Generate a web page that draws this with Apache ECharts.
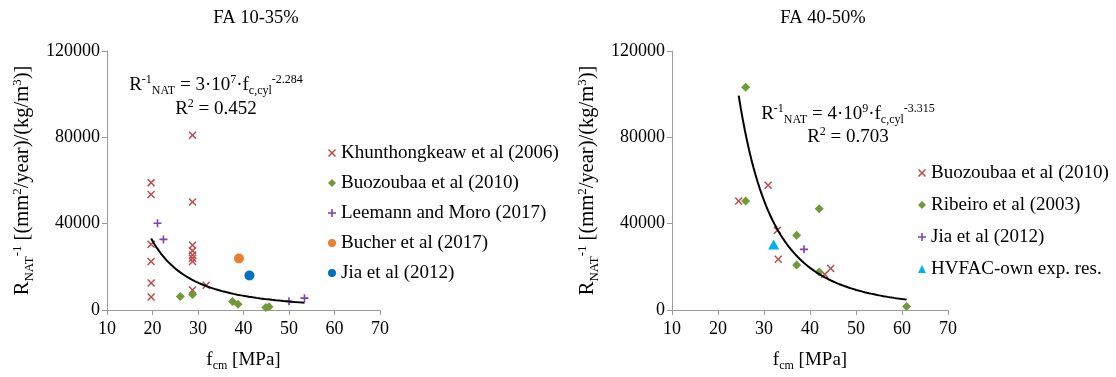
<!DOCTYPE html>
<html>
<head>
<meta charset="utf-8">
<title>Natural carbonation resistance vs. compressive strength</title>
<script src="https://cdn.jsdelivr.net/npm/echarts@6/dist/echarts.min.js"></script>
<style>
  html, body { margin: 0; padding: 0; background: #ffffff; }
  #chart { width: 1116px; height: 377px; }
</style>
</head>
<body>
<div id="chart"></div>
<script>
// ---- axis ticks (both panels share the same scales) ----
const fcmTicks = [10, 20, 30, 40, 50, 60, 70];
const rnatTicks = [0, 40000, 80000, 120000];

// ---- panel 1: FA 10-35 % ----
const khunthongkeawFcm = [19.7, 19.7, 19.7, 19.7, 19.7, 19.7, 28.8, 28.8, 28.8, 28.8, 28.8, 28.8, 28.8, 28.8, 31.8];
const khunthongkeawR   = [59000, 53500, 30500, 22500, 12500, 6000, 81000, 50000, 30000, 27500, 25500, 24000, 22500, 9300, 11500];
const buozoubaaLoFcm   = [26.1, 28.8, 37.6, 38.8, 44.9, 45.6];
const buozoubaaLoR     = [6200, 7200, 3900, 2700, 1200, 1500];
const leemannFcm       = [21.1, 22.4, 50.0, 53.4];
const leemannR         = [40200, 32700, 4000, 5500];
const bucherFcm        = [39.0];
const bucherR          = [23900];
const jiaLoFcm         = [41.3];
const jiaLoR           = [16000];

// ---- panel 2: FA 40-50 % ----
const buozoubaaHiFcm = [24.5, 30.9, 32.9, 33.1, 43.2, 44.5];
const buozoubaaHiR   = [50500, 57800, 36900, 23500, 16500, 19200];
const ribeiroFcm     = [26.0, 26.0, 37.1, 37.1, 42.0, 42.0, 61.0];
const ribeiroR       = [103200, 50500, 34600, 20800, 46900, 17600, 1600];
const jiaHiFcm       = [38.7];
const jiaHiR         = [28100];
const hvfacFcm       = [32.1];
const hvfacR         = [30400];

// ---- power-law trend lines R = a * fcm^b (as stated in the equations) ----
const fitCoefficient = [3e7, 4e9];
const fitExponent    = [-2.284, -3.315];
const fitR2          = ['0.452', '0.703'];
const panelTitles    = ['FA 10-35%', 'FA 40-50%'];

const SERIF = '"Liberation Serif", "Times New Roman", serif';
const AXIS_GREY = '#9c9c9c';

const COL = {
  red: '#BE4B48',
  green: '#70993A',
  purple: '#7E3FB9',
  orange: '#ED7D31',
  blue: '#0070C0',
  cyan: '#00B0F0'
};

const CROSS = 'path://M0,1.3L1.3,0L5,3.7L8.7,0L10,1.3L6.3,5L10,8.7L8.7,10L5,6.3L1.3,10L0,8.7L3.7,5Z';
const PLUS  = 'path://M4,0H6V4H10V6H6V10H4V6H0V4H4Z';

function zip(xs, ys) { return xs.map((x, i) => [x, ys[i]]); }

// rich text styles for sub- and superscripts
function richStyles(size) {
  const small = Math.round(size * 0.62);
  const lh = Math.round(size * 1.26);
  return {
    n:   { fontFamily: SERIF, fontSize: size, color: '#000', fill: '#000', lineHeight: lh, verticalAlign: 'middle' },
    sup: { fontFamily: SERIF, fontSize: small, color: '#000', fill: '#000', lineHeight: small + 3, verticalAlign: 'top', padding: [1, 0, 0, 0] },
    sub: { fontFamily: SERIF, fontSize: small, color: '#000', fill: '#000', lineHeight: small + 2, verticalAlign: 'bottom' }
  };
}

const yName = '{n|R}{sub|NAT}{sup|-1}{n| [(mm}{sup|2}{n|/year)/(kg/m}{sup|3}{n|)]}';
const xName = '{n|f}{sub|cm}{n| [MPa]}';

// split a coefficient into mantissa and power of ten
function sciParts(coef) {
  const e = Math.floor(Math.log10(coef) + 1e-9);
  const m = Math.round(coef / Math.pow(10, e));
  return [m, e];
}

// sample the trend line over the data range of each panel
function trendData(coef, expo, xs) {
  const lo = Math.min(...xs), hi = Math.max(...xs);
  const n = 80, pts = [];
  for (let i = 0; i <= n; i++) {
    const x = lo + (hi - lo) * i / n;
    pts.push([x, coef * Math.pow(x, expo)]);
  }
  return pts;
}

const leftAllFcm = [].concat(khunthongkeawFcm, buozoubaaLoFcm, leemannFcm, bucherFcm, jiaLoFcm);
const rightAllFcm = [].concat(buozoubaaHiFcm, ribeiroFcm, jiaHiFcm, hvfacFcm);

function makeX(gridIndex) {
  return {
    type: 'value', gridIndex,
    min: fcmTicks[0], max: fcmTicks[fcmTicks.length - 1], interval: fcmTicks[1] - fcmTicks[0],
    axisLine: { show: true, onZero: false, lineStyle: { color: AXIS_GREY, width: 1 } },
    axisTick: { show: true, inside: false, length: 5, lineStyle: { color: AXIS_GREY } },
    splitLine: { show: false },
    axisLabel: { fontFamily: SERIF, fontSize: 18, color: '#000', margin: 10, formatter: v => String(v) },
    name: xName, nameLocation: 'middle', nameGap: 38, nameMoveOverlap: false,
    nameTextStyle: { fontFamily: SERIF, fontSize: 19, color: '#000', rich: richStyles(19) }
  };
}
function makeY(gridIndex) {
  return {
    type: 'value', gridIndex,
    min: rnatTicks[0], max: rnatTicks[rnatTicks.length - 1], interval: rnatTicks[1] - rnatTicks[0],
    axisLine: { show: true, onZero: false, lineStyle: { color: AXIS_GREY, width: 1 } },
    axisTick: { show: true, inside: false, length: 5, lineStyle: { color: AXIS_GREY } },
    splitLine: { show: false },
    axisLabel: { fontFamily: SERIF, fontSize: 18, color: '#000', margin: 7, formatter: v => String(v) },
    name: yName, nameLocation: 'middle', nameRotate: 90, nameGap: 71, nameMoveOverlap: false,
    nameTextStyle: { fontFamily: SERIF, fontSize: 20.5, color: '#000', rich: richStyles(20.5) }
  };
}

function scatter(panel, label, xs, ys, symbol, size, color, gi) {
  return {
    type: 'scatter', name: panel + '|' + label,
    xAxisIndex: gi, yAxisIndex: gi,
    symbol, symbolSize: size,
    itemStyle: { color, opacity: 1 },
    data: zip(xs, ys), z: 3, silent: true
  };
}

const leftLabels = ['Khunthongkeaw et al (2006)', 'Buozoubaa et al (2010)', 'Leemann and Moro (2017)', 'Bucher et al (2017)', 'Jia et al (2012)'];
const rightLabels = ['Buozoubaa et al (2010)', 'Ribeiro et al (2003)', 'Jia et al (2012)', 'HVFAC-own exp. res.'];

const series = [
  scatter('A', leftLabels[0], khunthongkeawFcm, khunthongkeawR, CROSS, 8, COL.red, 0),
  scatter('A', leftLabels[1], buozoubaaLoFcm, buozoubaaLoR, 'diamond', 9, COL.green, 0),
  scatter('A', leftLabels[2], leemannFcm, leemannR, PLUS, 8, COL.purple, 0),
  scatter('A', leftLabels[3], bucherFcm, bucherR, 'circle', 10, COL.orange, 0),
  scatter('A', leftLabels[4], jiaLoFcm, jiaLoR, 'circle', 10, COL.blue, 0),
  scatter('B', rightLabels[0], buozoubaaHiFcm, buozoubaaHiR, CROSS, 8, COL.red, 1),
  scatter('B', rightLabels[1], ribeiroFcm, ribeiroR, 'diamond', 9, COL.green, 1),
  scatter('B', rightLabels[2], jiaHiFcm, jiaHiR, PLUS, 8, COL.purple, 1),
  scatter('B', rightLabels[3], hvfacFcm, hvfacR, 'triangle', [11, 10], COL.cyan, 1),
  {
    type: 'line', name: 'trendA', xAxisIndex: 0, yAxisIndex: 0,
    data: trendData(fitCoefficient[0], fitExponent[0], leftAllFcm),
    showSymbol: false, smooth: false, silent: true, z: 4,
    lineStyle: { color: '#000', width: 2 }
  },
  {
    type: 'line', name: 'trendB', xAxisIndex: 1, yAxisIndex: 1,
    data: trendData(fitCoefficient[1], fitExponent[1], rightAllFcm),
    showSymbol: false, smooth: false, silent: true, z: 4,
    lineStyle: { color: '#000', width: 2 }
  }
];

function eqText(i) {
  const [m, e] = sciParts(fitCoefficient[i]);
  return '{n|R}{sup|-1}{sub|NAT}{n| = ' + m + '·10}{sup|' + e + '}{n|·f}{sub|c,cyl}{sup|' + fitExponent[i] + '}';
}
function r2Text(i) {
  return '{n|R}{sup|2}{n| = ' + fitR2[i] + '}';
}

function textEl(x, y, text, size, rich) {
  const style = { text, x: 0, y: 0, align: 'center', verticalAlign: 'middle', fill: '#000',
                  fontFamily: SERIF, fontSize: size };
  if (rich) style.rich = rich;
  return { type: 'text', x, y, silent: true, style };
}

const legendCommon = {
  orient: 'vertical', itemWidth: 8, itemHeight: 8, selectedMode: false,
  formatter: n => n.split('|')[1],
  textStyle: { fontFamily: SERIF, fontSize: 19, color: '#000', lineHeight: 20 },
  padding: 0
};

const option = {
  animation: false,
  backgroundColor: '#ffffff',
  grid: [
    { left: 107, top: 51, width: 273, height: 259 },
    { left: 672, top: 51, width: 276, height: 259 }
  ],
  xAxis: [makeX(0), makeX(1)],
  yAxis: [makeY(0), makeY(1)],
  legend: [
    Object.assign({}, legendCommon, { left: 328, top: 143, itemGap: 10,
      data: leftLabels.map(l => 'A|' + l) }),
    Object.assign({}, legendCommon, { left: 918, top: 163, itemGap: 12,
      data: rightLabels.map(l => 'B|' + l) })
  ],
  graphic: [
    textEl(256, 18, panelTitles[0], 18.5),
    textEl(823, 18, panelTitles[1], 18.5),
    textEl(216, 85, eqText(0), 19, richStyles(19)),
    textEl(216, 109, r2Text(0), 19, richStyles(19)),
    textEl(848, 114, eqText(1), 19, richStyles(19)),
    textEl(848, 137, r2Text(1), 19, richStyles(19))
  ],
  series
};

const chart = echarts.init(document.getElementById('chart'), null, { renderer: 'canvas' });
chart.setOption(option);
</script>
</body>
</html>
